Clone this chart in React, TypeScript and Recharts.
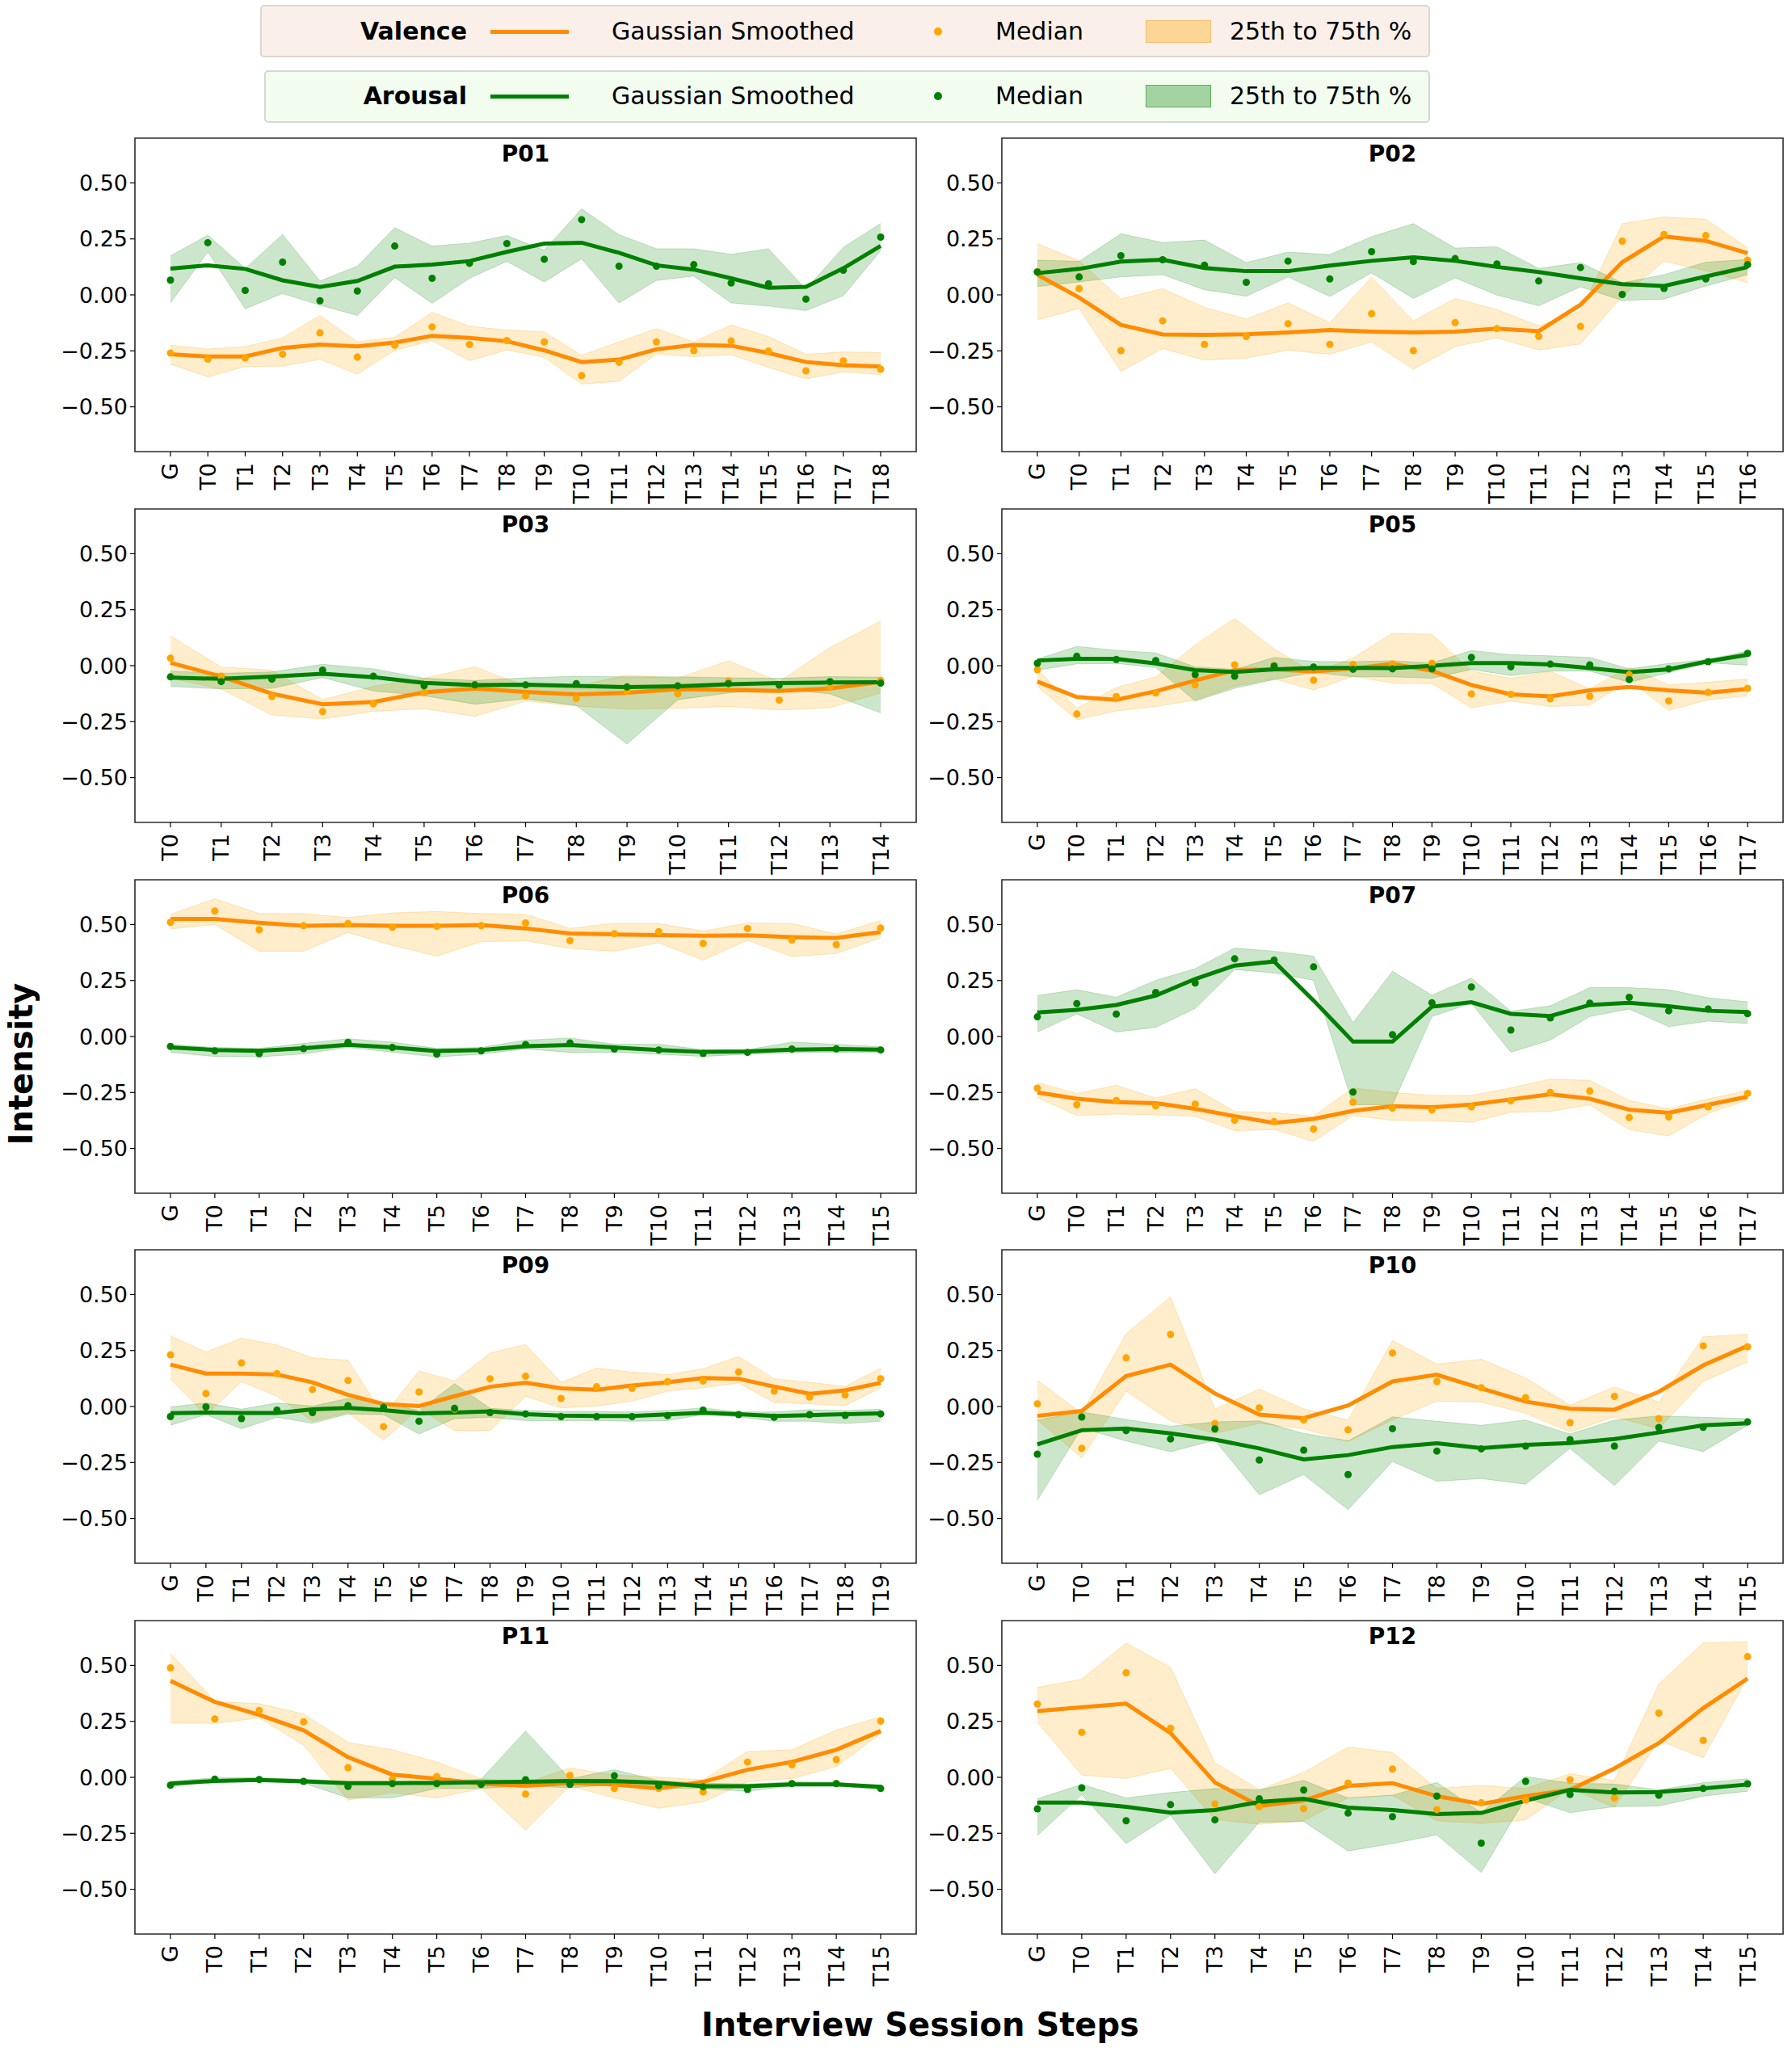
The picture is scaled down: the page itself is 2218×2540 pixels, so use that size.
import React from "react";
import { ComposedChart, Area, Line, XAxis, YAxis, ReferenceArea } from "recharts";

const FONT = '"DejaVu Sans", sans-serif';
const ORANGE_LINE = "#ff8c00";
const ORANGE_DOT = "#ffa500";
const GREEN = "#008000";

// ---------- P01 ----------
const p01Labels = ["G", "T0", "T1", "T2", "T3", "T4", "T5", "T6", "T7", "T8", "T9", "T10", "T11", "T12", "T13", "T14", "T15", "T16", "T17", "T18"];
const p01ValMed = [-0.26, -0.287, -0.282, -0.265, -0.17, -0.278, -0.225, -0.143, -0.222, -0.204, -0.21, -0.361, -0.301, -0.21, -0.249, -0.206, -0.251, -0.339, -0.295, -0.332];
const p01ValSmooth = [-0.265, -0.275, -0.275, -0.237, -0.222, -0.23, -0.213, -0.183, -0.192, -0.207, -0.248, -0.3, -0.289, -0.243, -0.224, -0.227, -0.26, -0.3, -0.314, -0.32];
const p01ValLow = [-0.309, -0.366, -0.32, -0.318, -0.288, -0.354, -0.248, -0.205, -0.294, -0.246, -0.279, -0.398, -0.386, -0.264, -0.276, -0.267, -0.324, -0.375, -0.344, -0.356];
const p01ValHigh = [-0.224, -0.242, -0.231, -0.192, -0.092, -0.21, -0.189, -0.078, -0.14, -0.157, -0.165, -0.27, -0.21, -0.151, -0.21, -0.135, -0.186, -0.265, -0.255, -0.258];
const p01AroMed = [0.066, 0.233, 0.02, 0.146, -0.026, 0.017, 0.218, 0.074, 0.141, 0.229, 0.159, 0.336, 0.128, 0.128, 0.135, 0.053, 0.05, -0.019, 0.11, 0.258];
const p01AroSmooth = [0.117, 0.132, 0.116, 0.065, 0.035, 0.062, 0.126, 0.135, 0.151, 0.192, 0.229, 0.233, 0.188, 0.132, 0.113, 0.074, 0.032, 0.036, 0.119, 0.219];
const p01AroLow = [-0.036, 0.192, -0.062, 0.006, -0.046, -0.092, 0.078, -0.038, 0.074, 0.15, 0.058, 0.161, -0.036, 0.064, 0.084, -0.036, -0.05, -0.07, -0.004, 0.198];
const p01AroHigh = [0.174, 0.267, 0.118, 0.27, 0.062, 0.128, 0.3, 0.218, 0.231, 0.265, 0.199, 0.384, 0.269, 0.206, 0.206, 0.181, 0.206, 0.025, 0.212, 0.319];

// ---------- P02 ----------
const p02Labels = ["G", "T0", "T1", "T2", "T3", "T4", "T5", "T6", "T7", "T8", "T9", "T10", "T11", "T12", "T13", "T14", "T15", "T16"];
const p02ValMed = [0.104, 0.028, -0.249, -0.116, -0.221, -0.186, -0.129, -0.221, -0.084, -0.249, -0.124, -0.151, -0.185, -0.141, 0.24, 0.27, 0.265, 0.155];
const p02ValSmooth = [0.09, -0.012, -0.134, -0.177, -0.179, -0.176, -0.168, -0.157, -0.164, -0.168, -0.164, -0.151, -0.162, -0.044, 0.146, 0.261, 0.241, 0.186];
const p02ValLow = [-0.112, -0.061, -0.342, -0.24, -0.291, -0.282, -0.247, -0.265, -0.21, -0.332, -0.231, -0.192, -0.246, -0.219, -0.006, 0.15, 0.108, 0.054];
const p02ValHigh = [0.228, 0.152, -0.018, 0.028, -0.056, -0.108, -0.036, -0.124, 0.078, -0.116, -0.016, -0.066, -0.138, -0.072, 0.318, 0.348, 0.338, 0.21];
const p02AroMed = [0.102, 0.08, 0.175, 0.157, 0.133, 0.056, 0.151, 0.071, 0.193, 0.149, 0.162, 0.138, 0.062, 0.122, 0.002, 0.029, 0.071, 0.135];
const p02AroSmooth = [0.097, 0.116, 0.149, 0.157, 0.12, 0.106, 0.106, 0.131, 0.152, 0.168, 0.152, 0.125, 0.102, 0.074, 0.048, 0.04, 0.082, 0.124];
const p02AroLow = [0.037, 0.058, 0.08, 0.09, 0.023, -0.006, 0.08, -0.007, 0.098, -0.016, 0.076, -0.001, -0.049, 0.036, -0.025, -0.019, 0.04, 0.09];
const p02AroHigh = [0.155, 0.15, 0.273, 0.234, 0.245, 0.144, 0.191, 0.18, 0.26, 0.318, 0.209, 0.215, 0.118, 0.144, 0.054, 0.09, 0.146, 0.158];

// ---------- P03 ----------
const p03Labels = ["T0", "T1", "T2", "T3", "T4", "T5", "T6", "T7", "T8", "T9", "T10", "T11", "T12", "T13", "T14"];
const p03ValMed = [0.034, -0.047, -0.138, -0.205, -0.17, -0.12, -0.084, -0.134, -0.146, -0.114, -0.126, -0.068, -0.154, -0.092, -0.066];
const p03ValSmooth = [0.013, -0.048, -0.125, -0.172, -0.162, -0.119, -0.102, -0.117, -0.128, -0.121, -0.105, -0.108, -0.113, -0.102, -0.072];
const p03ValLow = [-0.056, -0.104, -0.22, -0.238, -0.204, -0.192, -0.226, -0.158, -0.18, -0.194, -0.19, -0.182, -0.198, -0.188, -0.122];
const p03ValHigh = [0.133, -0.006, -0.02, -0.152, -0.092, -0.056, -0.005, -0.09, -0.092, -0.042, -0.056, 0.022, -0.071, 0.081, 0.199];
const p03AroMed = [-0.05, -0.071, -0.06, -0.02, -0.047, -0.09, -0.086, -0.086, -0.08, -0.095, -0.09, -0.08, -0.087, -0.071, -0.078];
const p03AroSmooth = [-0.053, -0.059, -0.049, -0.036, -0.051, -0.077, -0.087, -0.085, -0.09, -0.096, -0.092, -0.083, -0.078, -0.075, -0.074];
const p03AroLow = [-0.092, -0.104, -0.101, -0.053, -0.113, -0.134, -0.172, -0.148, -0.178, -0.35, -0.152, -0.122, -0.104, -0.126, -0.21];
const p03AroHigh = [-0.024, -0.034, -0.028, 0.006, -0.014, -0.056, -0.066, -0.054, -0.047, -0.05, -0.05, -0.054, -0.056, -0.049, -0.051];

// ---------- P05 ----------
const p05Labels = ["G", "T0", "T1", "T2", "T3", "T4", "T5", "T6", "T7", "T8", "T9", "T10", "T11", "T12", "T13", "T14", "T15", "T16", "T17"];
const p05ValMed = [-0.018, -0.216, -0.138, -0.122, -0.086, 0.004, 0, -0.065, 0.005, 0.007, 0.011, -0.126, -0.128, -0.148, -0.137, -0.04, -0.158, -0.119, -0.101];
const p05ValSmooth = [-0.071, -0.14, -0.152, -0.114, -0.066, -0.02, -0.016, -0.026, -0.013, 0.008, -0.023, -0.086, -0.128, -0.137, -0.11, -0.095, -0.11, -0.121, -0.104];
const p05ValLow = [-0.092, -0.242, -0.202, -0.182, -0.154, -0.092, -0.059, -0.108, -0.047, -0.078, -0.08, -0.188, -0.158, -0.182, -0.176, -0.065, -0.2, -0.152, -0.134];
const p05ValHigh = [-0.018, -0.19, -0.098, -0.05, 0.093, 0.211, 0.075, -0.032, 0.034, 0.145, 0.14, -0.024, -0.056, -0.025, -0.104, -0.006, -0.086, -0.074, -0.059];
const p05AroMed = [0.011, 0.042, 0.028, 0.023, -0.04, -0.047, -0.002, -0.006, -0.016, -0.014, -0.014, 0.037, -0.005, 0.007, 0.004, -0.062, -0.014, 0.018, 0.055];
const p05AroSmooth = [0.023, 0.031, 0.031, 0.01, -0.02, -0.028, -0.016, -0.01, -0.01, -0.011, -0.001, 0.012, 0.012, 0.005, -0.011, -0.029, -0.016, 0.02, 0.049];
const p05AroLow = [-0.02, 0.008, 0.01, -0.008, -0.158, -0.101, -0.062, -0.029, -0.05, -0.05, -0.056, -0.017, -0.044, -0.024, -0.024, -0.074, -0.032, 0.013, 0.002];
const p05AroHigh = [0.03, 0.086, 0.069, 0.057, -0.005, -0.017, 0.037, 0.019, 0.018, 0.022, 0.012, 0.068, 0.049, 0.044, 0.037, -0.014, 0.01, 0.028, 0.066];

// ---------- P06 ----------
const p06Labels = ["G", "T0", "T1", "T2", "T3", "T4", "T5", "T6", "T7", "T8", "T9", "T10", "T11", "T12", "T13", "T14", "T15"];
const p06ValMed = [0.51, 0.56, 0.477, 0.495, 0.504, 0.488, 0.492, 0.495, 0.507, 0.428, 0.459, 0.468, 0.416, 0.482, 0.431, 0.41, 0.484];
const p06ValSmooth = [0.525, 0.525, 0.508, 0.494, 0.498, 0.494, 0.494, 0.498, 0.483, 0.46, 0.456, 0.453, 0.45, 0.452, 0.444, 0.44, 0.466];
const p06ValLow = [0.48, 0.501, 0.381, 0.381, 0.465, 0.407, 0.359, 0.423, 0.428, 0.393, 0.381, 0.419, 0.341, 0.429, 0.357, 0.371, 0.441];
const p06ValHigh = [0.546, 0.615, 0.549, 0.549, 0.531, 0.552, 0.558, 0.549, 0.546, 0.483, 0.506, 0.504, 0.471, 0.507, 0.504, 0.458, 0.518];
const p06AroMed = [-0.044, -0.064, -0.077, -0.054, -0.026, -0.049, -0.079, -0.064, -0.036, -0.029, -0.056, -0.06, -0.076, -0.071, -0.056, -0.055, -0.06];
const p06AroSmooth = [-0.049, -0.06, -0.064, -0.052, -0.037, -0.049, -0.065, -0.06, -0.043, -0.038, -0.049, -0.06, -0.069, -0.067, -0.059, -0.056, -0.059];
const p06AroLow = [-0.071, -0.089, -0.091, -0.078, -0.049, -0.07, -0.091, -0.079, -0.055, -0.071, -0.07, -0.079, -0.089, -0.079, -0.073, -0.071, -0.071];
const p06AroHigh = [-0.035, -0.049, -0.053, -0.031, -0.01, -0.025, -0.053, -0.049, -0.016, -0.007, -0.034, -0.034, -0.059, -0.059, -0.025, -0.035, -0.046];

// ---------- P07 ----------
const p07Labels = ["G", "T0", "T1", "T2", "T3", "T4", "T5", "T6", "T7", "T8", "T9", "T10", "T11", "T12", "T13", "T14", "T15", "T16", "T17"];
const p07ValMed = [-0.231, -0.305, -0.286, -0.31, -0.302, -0.374, -0.38, -0.413, -0.293, -0.32, -0.328, -0.314, -0.287, -0.25, -0.244, -0.362, -0.359, -0.314, -0.254];
const p07ValSmooth = [-0.25, -0.278, -0.293, -0.298, -0.323, -0.356, -0.386, -0.368, -0.332, -0.311, -0.316, -0.304, -0.281, -0.258, -0.278, -0.327, -0.341, -0.305, -0.269];
const p07ValLow = [-0.272, -0.353, -0.346, -0.35, -0.356, -0.42, -0.416, -0.468, -0.353, -0.374, -0.376, -0.383, -0.338, -0.335, -0.305, -0.416, -0.444, -0.344, -0.284];
const p07ValHigh = [-0.206, -0.254, -0.218, -0.275, -0.233, -0.335, -0.34, -0.356, -0.23, -0.25, -0.263, -0.263, -0.23, -0.19, -0.196, -0.286, -0.323, -0.278, -0.242];
const p07AroMed = [0.088, 0.147, 0.1, 0.197, 0.239, 0.347, 0.341, 0.311, -0.248, 0.008, 0.151, 0.221, 0.029, 0.083, 0.149, 0.175, 0.115, 0.123, 0.102];
const p07AroSmooth = [0.107, 0.119, 0.141, 0.183, 0.257, 0.317, 0.335, 0.161, -0.023, -0.023, 0.133, 0.153, 0.101, 0.091, 0.141, 0.151, 0.135, 0.115, 0.109];
const p07AroLow = [0.02, 0.101, 0.02, 0.041, 0.125, 0.299, 0.284, 0.251, -0.305, -0.305, 0.089, 0.149, -0.07, -0.016, 0.089, 0.123, 0.044, 0.069, 0.058];
const p07AroHigh = [0.183, 0.209, 0.175, 0.251, 0.303, 0.395, 0.381, 0.359, 0.062, 0.291, 0.185, 0.261, 0.113, 0.137, 0.218, 0.218, 0.209, 0.173, 0.155];

// ---------- P09 ----------
const p09Labels = ["G", "T0", "T1", "T2", "T3", "T4", "T5", "T6", "T7", "T8", "T9", "T10", "T11", "T12", "T13", "T14", "T15", "T16", "T17", "T18", "T19"];
const p09ValMed = [0.231, 0.058, 0.195, 0.147, 0.076, 0.116, -0.09, 0.065, -0.012, 0.124, 0.135, 0.036, 0.088, 0.081, 0.111, 0.114, 0.154, 0.069, 0.042, 0.051, 0.124];
const p09ValSmooth = [0.187, 0.147, 0.147, 0.143, 0.108, 0.052, 0.011, 0.002, 0.046, 0.088, 0.106, 0.081, 0.075, 0.094, 0.108, 0.127, 0.124, 0.089, 0.057, 0.072, 0.106];
const p09ValLow = [0.124, -0.04, 0.111, 0.046, -0.066, -0.027, -0.151, -0.008, -0.108, -0.108, 0.046, -0.006, 0.002, 0.024, 0.069, 0.084, 0.105, 0.018, 0.012, 0.004, 0.084];
const p09ValHigh = [0.316, 0.243, 0.305, 0.275, 0.217, 0.207, -0.04, 0.159, 0.114, 0.239, 0.277, 0.108, 0.171, 0.154, 0.142, 0.169, 0.223, 0.124, 0.108, 0.09, 0.171];
const p09AroMed = [-0.045, -0.002, -0.054, -0.016, -0.027, 0.004, -0.004, -0.066, -0.008, -0.027, -0.033, -0.045, -0.045, -0.045, -0.041, -0.016, -0.036, -0.048, -0.036, -0.04, -0.033];
const p09AroSmooth = [-0.03, -0.027, -0.029, -0.029, -0.013, -0.006, -0.016, -0.031, -0.027, -0.022, -0.034, -0.041, -0.042, -0.042, -0.035, -0.028, -0.034, -0.042, -0.039, -0.034, -0.031];
const p09AroLow = [-0.084, -0.036, -0.099, -0.048, -0.075, -0.033, -0.036, -0.123, -0.054, -0.048, -0.063, -0.063, -0.063, -0.066, -0.063, -0.036, -0.046, -0.066, -0.066, -0.076, -0.066];
const p09AroHigh = [-0.002, 0.016, -0.012, 0.016, 0.002, 0.036, 0.016, -0.018, 0.102, -0.008, -0.018, -0.022, -0.022, -0.024, -0.018, -0.006, -0.024, -0.024, -0.014, -0.018, -0.012];

// ---------- P10 ----------
const p10Labels = ["G", "T0", "T1", "T2", "T3", "T4", "T5", "T6", "T7", "T8", "T9", "T10", "T11", "T12", "T13", "T14", "T15"];
const p10ValMed = [0.012, -0.187, 0.217, 0.322, -0.076, -0.006, -0.06, -0.104, 0.239, 0.112, 0.084, 0.04, -0.072, 0.045, -0.054, 0.271, 0.267];
const p10ValSmooth = [-0.042, -0.02, 0.136, 0.187, 0.058, -0.036, -0.052, 0.005, 0.112, 0.142, 0.081, 0.022, -0.01, -0.014, 0.066, 0.184, 0.271];
const p10ValLow = [-0.06, -0.229, 0.069, -0.064, -0.12, -0.075, -0.099, -0.157, -0.06, 0.024, 0.02, -0.03, -0.114, -0.046, -0.099, 0.112, 0.199];
const p10ValHigh = [0.117, -0.03, 0.325, 0.49, -0.012, 0.078, -0.01, -0.06, 0.295, 0.189, 0.211, 0.127, 0.006, 0.087, 0.02, 0.311, 0.323];
const p10AroMed = [-0.213, -0.047, -0.108, -0.145, -0.1, -0.239, -0.195, -0.304, -0.099, -0.199, -0.189, -0.177, -0.148, -0.177, -0.094, -0.093, -0.069];
const p10AroSmooth = [-0.169, -0.106, -0.098, -0.12, -0.148, -0.187, -0.236, -0.217, -0.181, -0.164, -0.186, -0.171, -0.163, -0.145, -0.116, -0.084, -0.075];
const p10AroLow = [-0.419, -0.096, -0.154, -0.202, -0.151, -0.394, -0.304, -0.461, -0.245, -0.334, -0.322, -0.347, -0.187, -0.353, -0.154, -0.201, -0.084];
const p10AroHigh = [-0.06, -0.024, -0.058, -0.088, -0.069, -0.064, -0.12, -0.153, -0.046, -0.066, -0.084, -0.06, -0.123, -0.06, -0.042, -0.048, -0.054];

// ---------- P11 ----------
const p11Labels = ["G", "T0", "T1", "T2", "T3", "T4", "T5", "T6", "T7", "T8", "T9", "T10", "T11", "T12", "T13", "T14", "T15"];
const p11ValMed = [0.489, 0.261, 0.299, 0.248, 0.043, -0.008, 0.004, -0.032, -0.075, 0.008, -0.05, -0.05, -0.065, 0.068, 0.056, 0.079, 0.251];
const p11ValSmooth = [0.431, 0.337, 0.279, 0.21, 0.09, 0.012, -0.006, -0.029, -0.038, -0.026, -0.032, -0.05, -0.02, 0.034, 0.069, 0.123, 0.207];
const p11ValLow = [0.243, 0.241, 0.265, 0.144, -0.102, -0.068, -0.092, -0.05, -0.236, -0.038, -0.092, -0.138, -0.11, -0.02, -0.005, 0.048, 0.195];
const p11ValHigh = [0.554, 0.339, 0.329, 0.283, 0.156, 0.123, 0.069, -0.006, -0.026, 0.042, 0.01, 0.001, -0.011, 0.115, 0.123, 0.211, 0.271];
const p11AroMed = [-0.035, -0.008, -0.01, -0.018, -0.041, -0.028, -0.028, -0.032, -0.011, -0.032, 0.007, -0.038, -0.042, -0.054, -0.028, -0.028, -0.05];
const p11AroSmooth = [-0.028, -0.016, -0.012, -0.018, -0.026, -0.026, -0.025, -0.022, -0.02, -0.016, -0.017, -0.024, -0.04, -0.04, -0.032, -0.032, -0.042];
const p11AroLow = [-0.042, -0.018, -0.02, -0.026, -0.092, -0.092, -0.05, -0.05, -0.038, -0.047, -0.032, -0.05, -0.05, -0.062, -0.038, -0.038, -0.056];
const p11AroHigh = [-0.018, -0.002, -0.002, -0.008, -0.018, -0.018, -0.018, -0.008, 0.207, -0.006, 0.034, -0.014, -0.026, -0.03, -0.02, -0.023, -0.035];

// ---------- P12 ----------
const p12Labels = ["G", "T0", "T1", "T2", "T3", "T4", "T5", "T6", "T7", "T8", "T9", "T10", "T11", "T12", "T13", "T14", "T15"];
const p12ValMed = [0.327, 0.201, 0.467, 0.219, -0.119, -0.131, -0.14, -0.026, 0.037, -0.144, -0.114, -0.101, -0.011, -0.092, 0.287, 0.165, 0.539];
const p12ValSmooth = [0.296, 0.313, 0.329, 0.198, -0.023, -0.128, -0.104, -0.038, -0.026, -0.084, -0.119, -0.084, -0.056, 0.04, 0.153, 0.309, 0.441];
const p12ValLow = [0.246, 0.01, -0.005, 0.04, -0.188, -0.21, -0.194, -0.092, -0.08, -0.194, -0.206, -0.19, -0.05, -0.134, 0.165, 0.087, 0.447];
const p12ValHigh = [0.401, 0.438, 0.6, 0.491, 0.066, -0.056, 0.022, 0.135, 0.111, -0.05, -0.036, -0.05, 0.016, -0.014, 0.417, 0.6, 0.606];
const p12AroMed = [-0.141, -0.047, -0.194, -0.122, -0.19, -0.096, -0.057, -0.16, -0.176, -0.084, -0.294, -0.018, -0.077, -0.062, -0.08, -0.05, -0.029];
const p12AroSmooth = [-0.113, -0.113, -0.132, -0.158, -0.146, -0.11, -0.096, -0.135, -0.146, -0.164, -0.159, -0.104, -0.056, -0.068, -0.066, -0.05, -0.032];
const p12AroLow = [-0.26, -0.078, -0.296, -0.17, -0.431, -0.2, -0.198, -0.329, -0.296, -0.257, -0.425, -0.092, -0.158, -0.131, -0.128, -0.084, -0.062];
const p12AroHigh = [-0.096, -0.032, -0.092, -0.068, -0.05, -0.056, -0.014, -0.092, -0.08, -0.023, -0.158, 0.004, -0.026, -0.03, -0.056, -0.024, -0.006];

const yTicks = [-0.5, -0.25, 0, 0.25, 0.5];

const panels = [
  { name: "P01", labels: p01Labels, vm: p01ValMed, vs: p01ValSmooth, vl: p01ValLow, vh: p01ValHigh, am: p01AroMed, as: p01AroSmooth, al: p01AroLow, ah: p01AroHigh },
  { name: "P02", labels: p02Labels, vm: p02ValMed, vs: p02ValSmooth, vl: p02ValLow, vh: p02ValHigh, am: p02AroMed, as: p02AroSmooth, al: p02AroLow, ah: p02AroHigh },
  { name: "P03", labels: p03Labels, vm: p03ValMed, vs: p03ValSmooth, vl: p03ValLow, vh: p03ValHigh, am: p03AroMed, as: p03AroSmooth, al: p03AroLow, ah: p03AroHigh },
  { name: "P05", labels: p05Labels, vm: p05ValMed, vs: p05ValSmooth, vl: p05ValLow, vh: p05ValHigh, am: p05AroMed, as: p05AroSmooth, al: p05AroLow, ah: p05AroHigh },
  { name: "P06", labels: p06Labels, vm: p06ValMed, vs: p06ValSmooth, vl: p06ValLow, vh: p06ValHigh, am: p06AroMed, as: p06AroSmooth, al: p06AroLow, ah: p06AroHigh },
  { name: "P07", labels: p07Labels, vm: p07ValMed, vs: p07ValSmooth, vl: p07ValLow, vh: p07ValHigh, am: p07AroMed, as: p07AroSmooth, al: p07AroLow, ah: p07AroHigh },
  { name: "P09", labels: p09Labels, vm: p09ValMed, vs: p09ValSmooth, vl: p09ValLow, vh: p09ValHigh, am: p09AroMed, as: p09AroSmooth, al: p09AroLow, ah: p09AroHigh },
  { name: "P10", labels: p10Labels, vm: p10ValMed, vs: p10ValSmooth, vl: p10ValLow, vh: p10ValHigh, am: p10AroMed, as: p10AroSmooth, al: p10AroLow, ah: p10AroHigh },
  { name: "P11", labels: p11Labels, vm: p11ValMed, vs: p11ValSmooth, vl: p11ValLow, vh: p11ValHigh, am: p11AroMed, as: p11AroSmooth, al: p11AroLow, ah: p11AroHigh },
  { name: "P12", labels: p12Labels, vm: p12ValMed, vs: p12ValSmooth, vl: p12ValLow, vh: p12ValHigh, am: p12AroMed, as: p12AroSmooth, al: p12AroLow, ah: p12AroHigh },
];

// layout (page pixels)
const COL_LEFT = [167, 1240];
const ROW_TOP = [171, 630, 1089, 1547, 2006];
const PLOT_W = 967;
const PLOT_H = 388;
const Y_AXIS_W = 110;
const X_AXIS_H = 80;
const M_TOP = 4;
const M_RIGHT = 6;

const fmtY = (v: number) => (v < 0 ? "\u2212" : "") + Math.abs(v).toFixed(2);

const XTick = ({ x, y, payload, labels }: any) => (
  <text
    x={x}
    y={y}
    transform={`rotate(-90 ${x} ${y})`}
    textAnchor="end"
    dominantBaseline="central"
    fontSize={27}
    fontFamily={FONT}
    fill="#000"
  >
    {labels[payload.value]}
  </text>
);

function Panel({ p, left, top }: any) {
  const n = p.labels.length;
  const pad = (n - 1) * 0.05;
  const data = p.labels.map((_: string, i: number) => ({
    x: i,
    vm: p.vm[i],
    vs: p.vs[i],
    vb: [p.vl[i], p.vh[i]],
    am: p.am[i],
    as: p.as[i],
    ab: [p.al[i], p.ah[i]],
  }));
  const xTicks = p.labels.map((_: string, i: number) => i);

  return (
    <>
      <div style={{ position: "absolute", left: left - Y_AXIS_W, top: top - M_TOP }}>
        <ComposedChart
          width={Y_AXIS_W + PLOT_W + M_RIGHT}
          height={M_TOP + PLOT_H + X_AXIS_H}
          data={data}
          margin={{ top: M_TOP, right: M_RIGHT, bottom: 0, left: 0 }}
        >
          <XAxis
            type="number"
            dataKey="x"
            domain={[-pad, n - 1 + pad]}
            allowDataOverflow
            ticks={xTicks}
            interval={0}
            height={X_AXIS_H}
            axisLine={false}
            tickSize={6}
            tickMargin={8}
            tickLine={{ stroke: "#000", strokeWidth: 1.2 }}
            tick={(props: any) => <XTick {...props} labels={p.labels} />}
          />
          <YAxis
            type="number"
            domain={[-0.7, 0.7]}
            allowDataOverflow
            ticks={yTicks}
            interval={0}
            width={Y_AXIS_W}
            axisLine={false}
            tickSize={6}
            tickMargin={3}
            tickLine={{ stroke: "#000", strokeWidth: 1.2 }}
            tickFormatter={fmtY}
            tick={{ fontSize: 27, fill: "#000", fontFamily: FONT }}
          />
          <Area
            type="linear"
            dataKey="vb"
            fill={ORANGE_DOT}
            fillOpacity={0.2}
            stroke={ORANGE_DOT}
            strokeOpacity={0.25}
            strokeWidth={1}
            isAnimationActive={false}
            activeDot={false}
          />
          <Line type="linear" dataKey="vs" stroke={ORANGE_LINE} strokeWidth={5} dot={false} activeDot={false} isAnimationActive={false} />
          <Line
            type="linear"
            dataKey="vm"
            stroke="none"
            strokeWidth={0}
            dot={{ r: 4.5, fill: ORANGE_DOT, stroke: "none", strokeWidth: 0 }}
            activeDot={false}
            isAnimationActive={false}
          />
          <Area
            type="linear"
            dataKey="ab"
            fill={GREEN}
            fillOpacity={0.2}
            stroke={GREEN}
            strokeOpacity={0.2}
            strokeWidth={1}
            isAnimationActive={false}
            activeDot={false}
          />
          <Line type="linear" dataKey="as" stroke={GREEN} strokeWidth={5} dot={false} activeDot={false} isAnimationActive={false} />
          <Line
            type="linear"
            dataKey="am"
            stroke="none"
            strokeWidth={0}
            dot={{ r: 4.5, fill: GREEN, stroke: "none", strokeWidth: 0 }}
            activeDot={false}
            isAnimationActive={false}
          />
          <ReferenceArea
            x1={-pad}
            x2={n - 1 + pad}
            y1={-0.7}
            y2={0.7}
            fill="none"
            fillOpacity={0}
            stroke="#2b2b2b"
            strokeWidth={1.6}
            ifOverflow="visible"
          />
        </ComposedChart>
      </div>
      <div
        style={{
          position: "absolute",
          left,
          top: top + 3,
          width: PLOT_W,
          textAlign: "center",
          fontFamily: FONT,
          fontWeight: "bold",
          fontSize: 28,
          lineHeight: "33px",
        }}
      >
        {p.name}
      </div>
    </>
  );
}

const legendRows = [
  { label: "Valence", left: 322, top: 6, width: 1448, cy: 39, bg: "#faf0e9", border: "#dcd6d2", line: ORANGE_LINE, dot: ORANGE_DOT, patch: "rgba(255,165,0,0.35)", patchEdge: "rgba(240,160,60,0.45)" },
  { label: "Arousal", left: 327, top: 87, width: 1443, cy: 119, bg: "#f2fdf0", border: "#d4d8d3", line: GREEN, dot: GREEN, patch: "rgba(0,128,0,0.33)", patchEdge: "rgba(0,128,0,0.4)" },
];

const legendText = (text: string, left: number, cy: number, bold = false) => (
  <div
    style={{
      position: "absolute",
      left,
      top: cy - 20,
      height: 40,
      lineHeight: "40px",
      fontFamily: FONT,
      fontSize: 30,
      fontWeight: bold ? "bold" : "normal",
      whiteSpace: "nowrap",
    }}
  >
    {text}
  </div>
);

function LegendRow({ r }: any) {
  return (
    <>
      <div
        style={{
          position: "absolute",
          left: r.left,
          top: r.top,
          width: r.width,
          height: 65,
          background: r.bg,
          border: `2px solid ${r.border}`,
          borderRadius: 5,
          boxSizing: "border-box",
        }}
      />
      <div
        style={{
          position: "absolute",
          left: 430,
          width: 148,
          top: r.cy - 20,
          height: 40,
          lineHeight: "40px",
          textAlign: "right",
          fontFamily: FONT,
          fontSize: 30,
          fontWeight: "bold",
        }}
      >
        {r.label}
      </div>
      <div style={{ position: "absolute", left: 607, top: r.cy - 2.5, width: 97, height: 5, background: r.line }} />
      {legendText("Gaussian Smoothed", 757, r.cy)}
      <div style={{ position: "absolute", left: 1156, top: r.cy - 5, width: 10, height: 10, borderRadius: 5, background: r.dot }} />
      {legendText("Median", 1232, r.cy)}
      <div
        style={{
          position: "absolute",
          left: 1418,
          top: r.cy - 14,
          width: 81,
          height: 28,
          background: r.patch,
          border: `1.5px solid ${r.patchEdge}`,
          boxSizing: "border-box",
        }}
      />
      {legendText("25th to 75th %", 1522, r.cy)}
    </>
  );
}

export default function App() {
  return (
    <div style={{ position: "absolute", left: 0, top: 0, width: 2218, height: 2540, background: "#fff", overflow: "hidden" }}>
      {legendRows.map((r) => (
        <LegendRow key={r.label} r={r} />
      ))}
      {panels.map((p, i) => (
        <Panel key={p.name} p={p} left={COL_LEFT[i % 2]} top={ROW_TOP[Math.floor(i / 2)]} />
      ))}
      <div
        style={{
          position: "absolute",
          left: 26 - 150,
          top: 1317 - 25,
          width: 300,
          height: 50,
          lineHeight: "50px",
          textAlign: "center",
          transform: "rotate(-90deg)",
          fontFamily: FONT,
          fontWeight: "bold",
          fontSize: 40,
        }}
      >
        Intensity
      </div>
      <div
        style={{
          position: "absolute",
          left: 1139 - 400,
          top: 2506 - 25,
          width: 800,
          height: 50,
          lineHeight: "50px",
          textAlign: "center",
          fontFamily: FONT,
          fontWeight: "bold",
          fontSize: 40,
        }}
      >
        Interview Session Steps
      </div>
    </div>
  );
}
